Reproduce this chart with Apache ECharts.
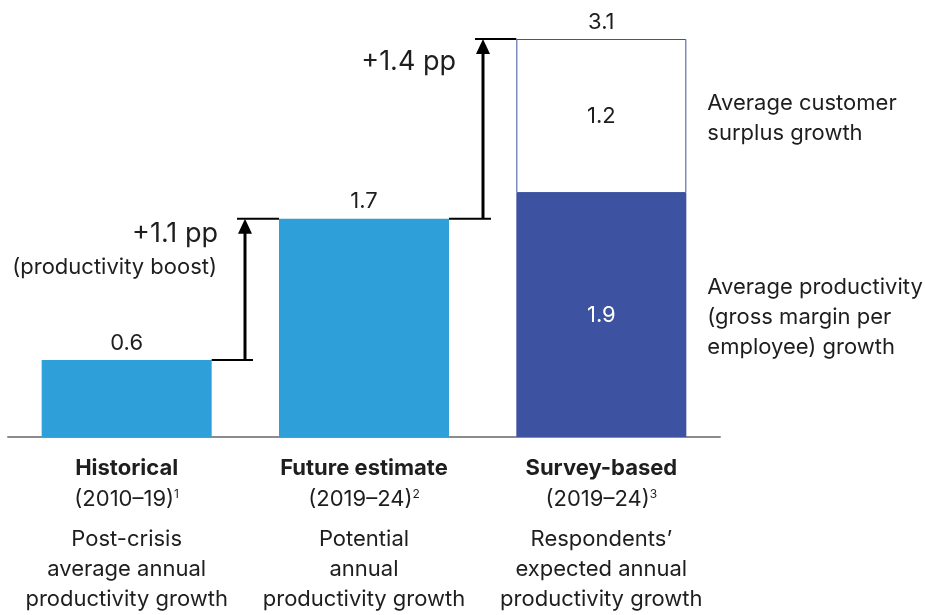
<!DOCTYPE html>
<html>
<head>
<meta charset="utf-8">
<script src="https://cdn.jsdelivr.net/npm/echarts@6/dist/echarts.min.js"></script>
<style>
  html, body { margin: 0; padding: 0; background: #fff; }
  #chart { width: 925px; height: 615px; }
</style>
</head>
<body>
<div id="chart"></div>
<script>
// chart data
const categories = ['Historical', 'Future estimate', 'Survey-based'];
const periods = ['(2010–19)', '(2019–24)', '(2019–24)'];
const footnotes = ['1', '2', '3'];
const descriptions = [
  'Post-crisis\naverage annual\nproductivity growth',
  'Potential\nannual\nproductivity growth',
  'Respondents’\nexpected annual\nproductivity growth'
];
const productivity = [0.6, 1.7, 1.9];
const customerSurplus = [null, null, 1.2];
const boostLabels = ['+1.1 pp', '+1.4 pp'];
const boostSubLabels = ['(productivity boost)', ''];
const segmentNotes = [
  'Average productivity\n(gross margin per\nemployee) growth',
  'Average customer\nsurplus growth'
];

const totals = productivity.map((v, i) => +(v + (customerSurplus[i] || 0)).toFixed(1));

const LIGHT = '#2f9fda';
const DARK = '#3d52a0';
const TEXT = '#1e1e1e';
const FONT = 'Inter, Roboto, sans-serif';
const FS = 22;
const BAR_W = 170;

// arrows between consecutive totals
const arrowData = boostLabels.map((lab, i) => [i, i + 1, totals[i], totals[i + 1]]);
const arrowLabelOffsets = [[-27, 15], [-27, 23]];

const chart = echarts.init(document.getElementById('chart'));

chart.setOption({
  animation: false,
  textStyle: { fontFamily: FONT },
  grid: { left: 8, right: 205, top: 39, bottom: 178 },
  xAxis: {
    type: 'category',
    data: categories,
    axisTick: { show: false },
    axisLine: { lineStyle: { color: '#8c8c8c', width: 2 } },
    axisLabel: {
      margin: 16,
      interval: 0,
      color: TEXT,
      formatter: (value, idx) => {
        const desc = descriptions[idx].split('\n').map(l => `{desc|${l}}`).join('\n');
        return `{title|${value}}\n{period|${periods[idx]}}{sup|${footnotes[idx]}}\n{gap| }\n${desc}`;
      },
      rich: {
        title: { fontFamily: FONT, fontSize: FS, fontWeight: 'bold', lineHeight: 31, color: TEXT },
        period: { fontFamily: FONT, fontSize: FS, lineHeight: 31, color: TEXT },
        sup: { fontFamily: FONT, fontSize: 12, lineHeight: 31, color: TEXT, padding: [0, 0, 10, 0] },
        gap: { fontSize: 2, lineHeight: 9 },
        desc: { fontFamily: FONT, fontSize: FS, lineHeight: 30, color: TEXT }
      }
    }
  },
  yAxis: {
    type: 'value',
    min: 0,
    max: 3.1,
    show: false,
    splitLine: { show: false }
  },
  series: [
    {
      name: 'Productivity',
      type: 'bar',
      stack: 'growth',
      barWidth: BAR_W,
      data: productivity.map((v, i) => ({
        value: v,
        itemStyle: { color: customerSurplus[i] ? DARK : LIGHT },
        label: customerSurplus[i]
          ? { show: true, position: 'inside', color: '#fff' }
          : { show: true, position: 'top', distance: 6, color: TEXT }
      })),
      label: { fontSize: FS, fontFamily: FONT }
    },
    {
      name: 'Customer surplus',
      type: 'bar',
      stack: 'growth',
      barWidth: BAR_W,
      data: customerSurplus,
      itemStyle: { color: '#fff', borderColor: DARK, borderWidth: 1 },
      label: { show: true, position: 'inside', color: TEXT, fontSize: FS, fontFamily: FONT }
    },
    {
      name: 'Total',
      type: 'bar',
      stack: 'growth',
      barWidth: BAR_W,
      data: customerSurplus.map(v => (v ? 0 : null)),
      itemStyle: { color: 'transparent' },
      label: {
        show: true,
        position: 'top',
        distance: 6,
        color: TEXT,
        fontSize: FS,
        fontFamily: FONT,
        formatter: p => totals[p.dataIndex]
      }
    },
    {
      name: 'Boost arrows',
      type: 'custom',
      data: arrowData,
      z: 5,
      renderItem: (params, api) => {
        const i = params.dataIndex;
        const p0 = api.coord([api.value(0), api.value(2)]);
        const p1 = api.coord([api.value(1), api.value(3)]);
        const half = BAR_W / 2;
        const ax = Math.round((p0[0] + p1[0]) / 2);
        const off = arrowLabelOffsets[i];
        const children = [
          { type: 'line', shape: { x1: p0[0] + half, y1: p0[1], x2: ax + 8, y2: p0[1] },
            style: { stroke: '#000', lineWidth: 2 } },
          { type: 'line', shape: { x1: ax - 8, y1: p1[1], x2: p1[0] - half, y2: p1[1] },
            style: { stroke: '#000', lineWidth: 2 } },
          { type: 'line', shape: { x1: ax, y1: p0[1], x2: ax, y2: p1[1] + 12 },
            style: { stroke: '#000', lineWidth: 3 } },
          { type: 'polygon', shape: { points: [[ax, p1[1]], [ax - 7, p1[1] + 15], [ax + 7, p1[1] + 15]] },
            style: { fill: '#000' } },
          { type: 'text', x: ax + off[0], y: p1[1] + off[1],
            style: { text: boostLabels[i], align: 'right', verticalAlign: 'middle',
              font: '27px ' + FONT, fill: TEXT } }
        ];
        if (boostSubLabels[i]) {
          children.push({ type: 'text', x: ax - 28, y: p1[1] + 49,
            style: { text: boostSubLabels[i], align: 'right', verticalAlign: 'middle',
              font: FS + 'px ' + FONT, fill: TEXT } });
        }
        return { type: 'group', children };
      }
    },
    {
      name: 'Segment notes',
      type: 'custom',
      data: [
        [2, 0, productivity[2]],
        [2, productivity[2], totals[2]]
      ],
      renderItem: (params, api) => {
        const mid = (api.value(1) + api.value(2)) / 2;
        const p = api.coord([api.value(0), mid]);
        return {
          type: 'text',
          x: p[0] + BAR_W / 2 + 21,
          y: p[1] + 2,
          style: {
            text: segmentNotes[params.dataIndex],
            align: 'left',
            verticalAlign: 'middle',
            font: FS + 'px ' + FONT,
            lineHeight: 30,
            fill: TEXT
          }
        };
      }
    }
  ]
});
</script>
</body>
</html>
